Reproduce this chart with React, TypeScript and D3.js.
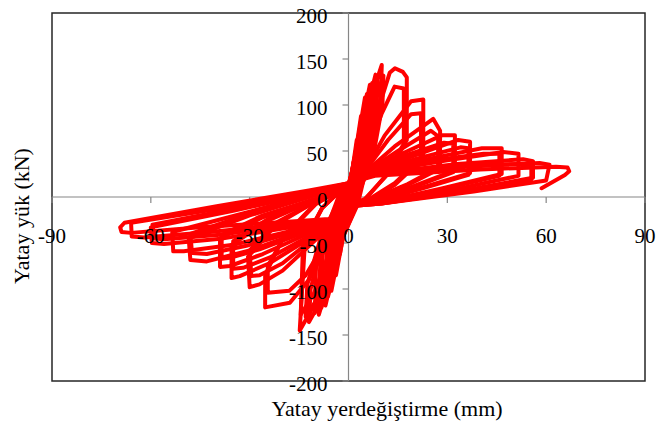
import React from 'react';
import * as d3 from 'd3';

// tick values for both axes
const xTicks = [-90, -60, -30, 0, 30, 60, 90];
const yTicks = [-200, -150, -100, -50, 0, 50, 100, 150, 200];

// small early cycles near the origin, [displacement mm, load kN]
const elasticCycles: [number, number][][] = [
  [[0, 0], [0.8, 20], [1.5, 38], [1.4, 15], [0.3, -3], [-0.8, -20], [-1.6, -38], [-1.4, -14], [-0.2, 3], [0, 2]],
  [[0, 2], [1.2, 30], [2.5, 62], [2.4, 30], [0.8, -5], [-1, -30], [-2.6, -62], [-2.4, -28], [-0.5, 6], [0, 5]],
  [[0, 5], [2, 45], [3.8, 88], [3.6, 45], [1, -8], [-1.5, -40], [-3.8, -85], [-3.6, -40], [-0.8, 8], [0, 8]],
  [[0, 8], [2.5, 55], [5, 108], [4.8, 60], [1.5, -8], [-2, -45], [-5.2, -102], [-5, -50], [-1, 10], [0, 10]],
  [[0, 9], [2.8, 55], [5.6, 112], [5.3, 62], [1.8, -8], [-2.4, -50], [-6.2, -108], [-5.8, -52], [-1.2, 10], [0, 10]],
  [[0, 10], [3, 60], [6.5, 122], [6.2, 70], [2, -8], [-2.5, -50], [-7, -118], [-6.6, -55], [-1.2, 12], [0, 12]],
  [[0, 11], [3.4, 62], [7.2, 124], [6.9, 72], [2.3, -8], [-3, -52], [-8.2, -120], [-7.8, -58], [-1.4, 12], [0, 12]],
  [[0, 12], [3.5, 65], [8.2, 133], [7.8, 78], [2.5, -8], [-3, -55], [-9, -128], [-8.5, -60], [-1.5, 12], [0, 14]],
  [[0, 12], [4, 66], [8.8, 130], [8.4, 76], [2.8, -8], [-3.6, -58], [-10.2, -126], [-9.8, -64], [-1.8, 12], [0, 14]],
];

// cycles around peak load
const peakCycles: [number, number][][] = [
  [[0, 14], [3, 50], [7, 110], [10.1, 143.5], [9.8, 110], [7, 50], [3, 5], [0, -10], [-3, -50], [-8, -110], [-12, -136], [-11.5, -100], [-8, -50], [-3, -5], [0, 14]],
  [[0, 14], [3.5, 48], [8, 105], [10.6, 132], [10.3, 100], [7.5, 45], [3, 3], [0, -10], [-3.5, -50], [-9, -108], [-13, -130], [-12.5, -95], [-8.5, -45], [-3, -4], [0, 14]],
  [[0, 14], [4, 40], [9, 95], [12.5, 135], [14.1, 140], [16.5, 136], [17.7, 130], [17.7, 62], [12, 25], [5, -2], [0, -10], [-3, -40], [-10, -115], [-14.8, -145], [-13.2, -48], [-8, -12], [-3, 5], [0, 14]],
  [[0, 14], [4.5, 38], [10, 90], [14, 120], [16.8, 118], [16.8, 58], [11, 22], [5, -3], [0, -10], [-3.5, -38], [-10.5, -105], [-14.5, -128], [-13.8, -50], [-8, -12], [-3, 5], [0, 14]],
  [[0, 14], [6, 35], [11, 67], [19, 104], [22.7, 106], [22.7, 44], [14, 15], [6, -3], [0, -10], [-4, -35], [-12, -90], [-17.8, -115], [-25.3, -120], [-25.3, -85], [-20, -45], [-10, -8], [0, 13]],
  [[0, 14], [6, 33], [12, 62], [19, 90], [22, 91], [22, 40], [14, 13], [6, -4], [0, -10], [-4.5, -34], [-13, -85], [-18, -102], [-24.5, -104], [-24.5, -75], [-19, -40], [-10, -7], [0, 13]],
];

// post-peak cycles with growing displacement
const softeningCycles: [number, number][][] = [
  [[0, 14], [6, 30], [14, 55], [25.7, 85], [27.8, 72], [27.8, 33], [18, 14], [6, -4], [0, -10], [-5, -30], [-20, -80], [-27, -95], [-30, -98], [-30.5, -65], [-22, -30], [-10, -5], [0, 13]],
  [[0, 14], [6, 29], [15, 50], [25, 72], [27.2, 66], [27.2, 30], [18, 13], [6, -4], [0, -10], [-5, -29], [-20, -72], [-27, -85], [-29.5, -86], [-30, -58], [-22, -28], [-10, -5], [0, 13]],
  [[0, 14], [6, 30], [18, 50], [28.3, 67], [32.3, 67], [32.3, 29], [20, 12], [7, -5], [0, -10], [-5, -30], [-24, -72], [-33, -86], [-35.5, -88], [-35.5, -52], [-24, -25], [-10, -3], [0, 13]],
  [[0, 14], [6, 29], [18, 46], [29, 59], [31.8, 58], [31.8, 27], [20, 11], [7, -5], [0, -10], [-5, -29], [-24, -66], [-32, -77], [-35, -78], [-35, -48], [-24, -23], [-10, -3], [0, 13]],
  [[0, 15], [6, 28], [20, 45], [33.3, 62], [36.9, 60], [36.9, 26], [22, 10], [8, -5], [0, -10], [-5, -28], [-26, -62], [-36, -75], [-39, -76], [-39, -45], [-26, -22], [-10, -2], [0, 13]],
  [[0, 15], [6, 27], [21, 42], [34, 54], [36.4, 53], [36.4, 24], [22, 9], [8, -5], [0, -10], [-5, -27], [-27, -57], [-36, -66], [-38.5, -67], [-38.5, -41], [-26, -20], [-10, -2], [0, 13]],
  [[0, 15], [7, 27], [25, 42], [40.5, 53], [46.5, 53], [46.5, 25], [28, 9], [9, -6], [0, -10], [-6, -28], [-30, -58], [-43, -70], [-48, -68.5], [-48.5, -45], [-30, -20], [-12, 0], [0, 14]],
  [[0, 15], [7, 26], [26, 40], [41, 47], [45.8, 47], [45.8, 23], [28, 8], [9, -6], [0, -10], [-6, -27], [-31, -53], [-43, -62], [-47.5, -61], [-48, -40], [-30, -18], [-12, 0], [0, 14]],
  [[0, 15], [7, 26], [30, 40], [47, 49], [51.6, 47], [51.6, 23], [32, 8], [10, -6], [0, -10], [-6, -27], [-35, -52], [-50, -59], [-53.2, -59], [-53.5, -38], [-32, -18], [-12, 2], [0, 14]],
  [[0, 15], [8, 25], [33, 36], [53, 41], [56, 39], [56, 21], [35, 7], [10, -7], [0, -10], [-6, -26], [-38, -45], [-56, -51], [-59.7, -50], [-60, -33], [-35, -15], [-12, 3], [0, 14]],
  [[0, 15], [8, 24], [34, 34], [53, 36], [55.5, 35], [55.5, 19], [35, 6], [10, -7], [0, -10], [-6, -25], [-39, -41], [-56, -46], [-59, -45], [-59.5, -30], [-35, -13], [-12, 4], [0, 15]],
  [[0, 15], [8, 24], [36, 33], [58, 37], [61, 35], [60, 18], [38, 6], [10, -7], [0, -10], [-6, -25], [-42, -38], [-62, -44], [-65.8, -43], [-66, -28], [-38, -12], [-12, 5], [0, 15]],
  [[0, -10], [-6, -24], [-45, -33], [-66, -39], [-68.9, -38], [-69.3, -33], [-68, -28], [-40, -10], [-12, 7], [0, 15], [8, 23], [40, 30], [63, 33], [66.5, 32], [67, 28], [65.7, 24], [58.6, 9.5]],
];

const W = 657;
const H = 437;
const left = 52, right = 645, top = 13, bottom = 381;
const font = '"Liberation Serif", "Times New Roman", serif';

export default function App() {
  const x = d3.scaleLinear().domain([-90, 90]).range([left, right]);
  const y = d3.scaleLinear().domain([-200, 200]).range([bottom, top]);
  const line = d3.line<[number, number]>()
    .x(d => x(d[0]))
    .y(d => y(d[1]));

  const allCycles = [...elasticCycles, ...peakCycles, ...softeningCycles];
  const x0 = x(0), y0 = y(0);

  return (
    <div style={{ position: 'absolute', left: 0, top: 0 }}>
      <svg width={W} height={H} style={{ display: 'block', background: '#fff' }}>
        <rect x={left} y={top} width={right - left} height={bottom - top}
          fill="none" stroke="#262626" strokeWidth={1.5} />
        {/* axes through origin */}
        <line x1={left} x2={right} y1={y0} y2={y0} stroke="#868686" strokeWidth={1.2} />
        <line x1={x0} x2={x0} y1={top} y2={bottom} stroke="#868686" strokeWidth={1.2} />
        {xTicks.map(t => (
          <line key={'xt' + t} x1={x(t)} x2={x(t)} y1={y0} y2={y0 + 6} stroke="#868686" strokeWidth={1.2} />
        ))}
        {yTicks.map(t => (
          <line key={'yt' + t} x1={x0 - 6} x2={x0} y1={y(t)} y2={y(t)} stroke="#868686" strokeWidth={1.2} />
        ))}
        <g fill="none" stroke="#ff0000" strokeWidth={4} strokeLinejoin="round" strokeLinecap="round">
          {allCycles.map((c, i) => (
            <path key={i} d={line(c) ?? ''} />
          ))}
        </g>
        <g fontFamily={font} fontSize={21} fill="#000">
          {xTicks.map(t => (
            <text key={'xl' + t} x={x(t)} y={y0 + 46} textAnchor="middle">{t}</text>
          ))}
          {yTicks.map(t => (
            <text key={'yl' + t} x={x0 - 21} y={y(t) + 10} textAnchor="end">{t}</text>
          ))}
          <text x={387} y={416} fontSize={22} textAnchor="middle">Yatay yerdeğiştirme (mm)</text>
          <text transform={`translate(29,216) rotate(-90)`} fontSize={22} textAnchor="middle">Yatay yük (kN)</text>
        </g>
      </svg>
    </div>
  );
}
